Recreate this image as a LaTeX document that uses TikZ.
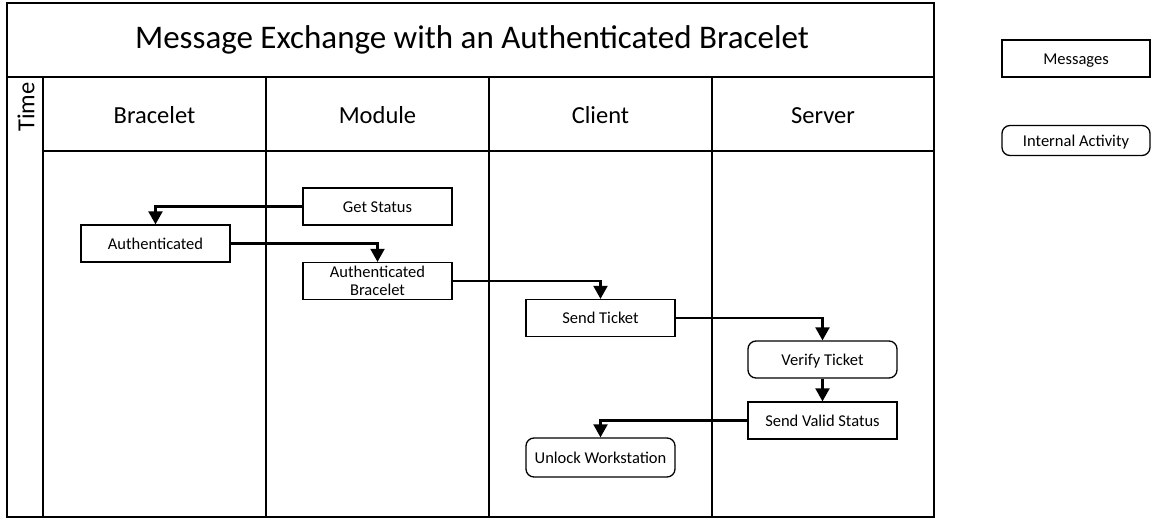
\documentclass[tikz,border=0pt]{standalone}
\usepackage{fontspec}
\setmainfont{Carlito}
\usetikzlibrary{arrows.meta}
\tikzset{
  frame/.style={line width=1.8pt},
  msgbox/.style={draw, line width=1.3pt, inner sep=0pt, minimum width=149pt, minimum height=37pt,
    align=center, text height=11.2pt, text depth=0pt, font=\fontsize{16.5}{16.5}\selectfont},
  actbox/.style={msgbox, rounded corners=8pt},
  flow/.style={line width=2.2pt, -{Triangle[width=14pt,length=13pt]}},
  lanehead/.style={text height=16.7pt, text depth=0pt, font=\fontsize{24.5}{26}\selectfont},
}
\begin{document}
\begin{tikzpicture}[x=1pt,y=-1pt]
\useasboundingbox (0,0) rectangle (1152,518);

% pool frame, title row, header row and lanes
\draw[frame] (7,3) rectangle (934,517);
\draw[frame] (7,77) -- (934,77);
\draw[frame] (43,77) -- (43,517);
\draw[frame] (43,151) -- (934,151);
\foreach \x in {266,489,712} \draw[frame] (\x,77) -- (\x,517);

\node[font=\fontsize{33}{36}\selectfont, text depth=0pt] (title) at (472,37) {Message Exchange with an Authenticated Bracelet};
\node[lanehead, rotate=90] (time) at (26,107) {Time};
\node[lanehead] (hbracelet) at (154.5,115) {Bracelet};
\node[lanehead] (hmodule) at (377.5,115) {Module};
\node[lanehead] (hclient) at (600.5,115) {Client};
\node[lanehead] (hserver) at (823,115) {Server};

% steps
\node[msgbox] (getstatus) at (377.5,206.5) {Get Status};
\node[msgbox] (auth) at (155.5,243.5) {Authenticated};
\node[msgbox, text height={}, font=\fontsize{16.5}{18}\selectfont] (authbr) at (377.5,281) {Authenticated\\Bracelet};
\node[msgbox] (sendticket) at (600.5,318) {Send Ticket};
\node[actbox] (verify) at (822.5,359.5) {Verify Ticket};
\node[msgbox] (sendvalid) at (822.5,420.5) {Send Valid Status};
\node[actbox, minimum height=39pt] (unlock) at (600.5,457.5) {Unlock Workstation};

% message flow
\draw[flow] (getstatus.west) -| (auth.north);
\draw[flow] (auth.east) -| (authbr.north);
\draw[flow] (authbr.east) -| (sendticket.north);
\draw[flow] (sendticket.east) -| (verify.north);
\draw[flow] (verify.south) -- (sendvalid.north);
\draw[flow] (sendvalid.west) -| (unlock.north);

% legend
\node[msgbox, minimum width=148pt] (legmsg) at (1076,58.5) {Messages};
\node[actbox, minimum width=148pt, minimum height=30pt] (legact) at (1076,140.5) {Internal Activity};
\end{tikzpicture}
\end{document}
